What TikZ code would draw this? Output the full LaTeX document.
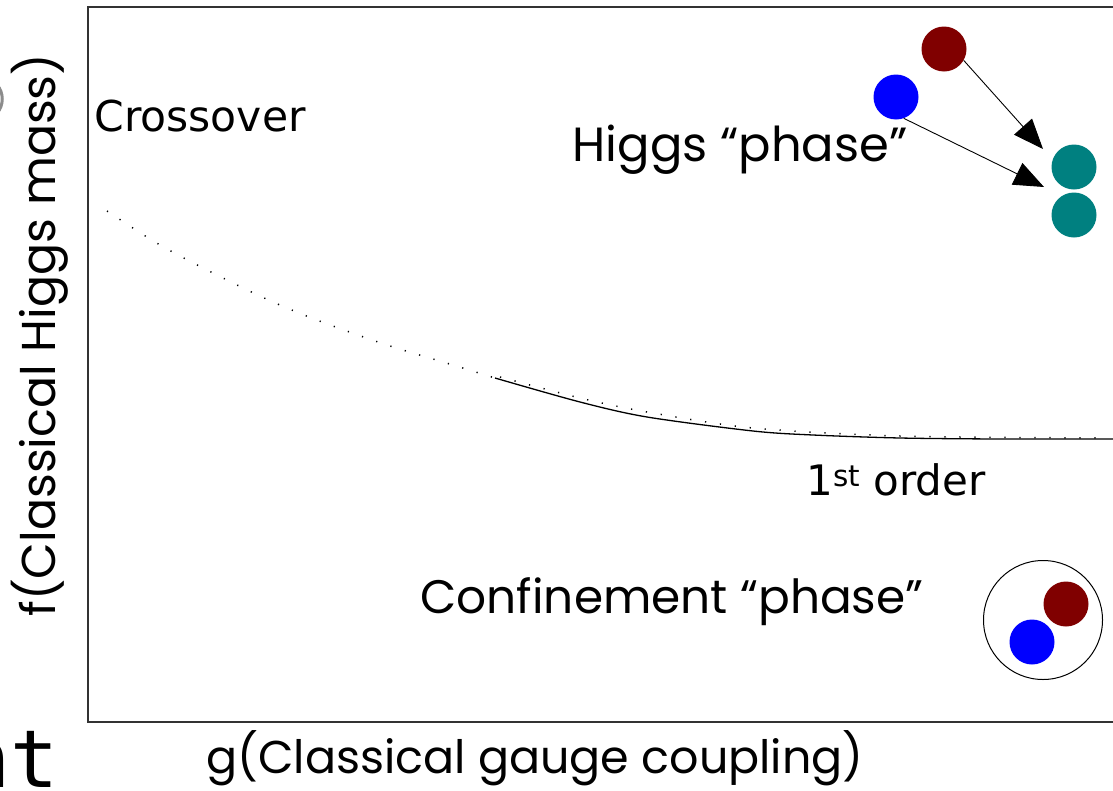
\documentclass[tikz,border=0pt]{standalone}
\usepackage{fontspec}
\setmainfont{Poppins}
\newfontfamily\dvfont{DejaVu Sans}
\newfontfamily\monofont{DejaVu Sans Mono}
\usetikzlibrary{arrows.meta}
\definecolor{tealc}{RGB}{0,128,128}
\definecolor{redc}{RGB}{128,0,0}
\definecolor{bluec}{RGB}{0,0,255}
\tikzset{
  ball/.style={circle,inner sep=0pt,minimum size=45pt,fill=#1,draw=none},
  gothic/.style={inner sep=0pt,font=\fontsize{#1}{#1}\selectfont},
  frameline/.style={draw=black!80,line width=1.4pt},
  pointer/.style={-{Triangle[length=30pt,width=24pt]},line width=0.9pt,black},
  dotline/.style={line width=1.5pt,black,dash pattern=on 1.2pt off 13.8pt},
}
\begin{document}
\begin{tikzpicture}[x=1pt,y=-1pt]
\useasboundingbox (0,0) rectangle (1113,790);
\clip (0,0) rectangle (1113,790);
% frame
\draw[frameline] (1115,7) -- (88,7) -- (88,722) -- (1115,722);
% partial glyphs at the left edge
\draw[line width=3pt,black!45] (-3,85) .. controls (4,92) and (4,106) .. (-3,113);
\node[anchor=base west,inner sep=0pt,font=\monofont\fontsize{80}{80}\selectfont] (nt) at (-38,787) {nt};
% axis labels
\node[gothic=47.5,rotate=90] (ylab) at (40,335) {f(Classical Higgs mass)};
\node[gothic=46] (xlab) at (535,758) {g(Classical gauge coupling)};
% region labels
\node[inner sep=0pt,font=\dvfont\fontsize{42.5}{42.5}\selectfont] (cross) at (200,116) {Crossover};
\node[gothic=48] (higgs) at (740,150) {Higgs “phase”};
\node[gothic=47] (conf) at (672,602) {Confinement “phase”};
\node[inner sep=0pt,font=\dvfont\fontsize{42}{42}\selectfont] (first) at (896,480) {1\textsuperscript{st} order};
% transition line
\draw[dotline] plot[smooth] coordinates {(107,211) (150,239) (180,256) (227,280) (273,302) (322,322) (387,345) (453,365) (495,378)};
\draw[dotline] plot[smooth] coordinates {(500,377) (580,398) (647,412) (753,428) (900,436) (1100,438)};
\draw[line width=1.3pt] plot[smooth] coordinates {(495,378) (580,402) (647,417) (753,431) (813,435) (900,438) (1000,439) (1115,439)};
% Higgs phase balls
\node[ball=redc] (red1) at (944,49) {};
\node[ball=bluec] (blue1) at (896,97) {};
\node[ball=tealc] (teal1) at (1074,167) {};
\node[ball=tealc] (teal2) at (1074,215) {};
\coordinate (tip1) at (1043,149);
\coordinate (tip2) at (1044,187);
\draw[pointer] (red1.-30) -- (tip1);
\draw[pointer] (blue1.-70) -- (tip2);
% confinement bound state
\node[circle,draw=black,line width=1pt,minimum size=119pt,inner sep=0pt] (bound) at (1043,620) {};
\node[ball=redc] (red2) at (1066,604) {};
\node[ball=bluec] (blue2) at (1032,642) {};
\end{tikzpicture}
\end{document}
